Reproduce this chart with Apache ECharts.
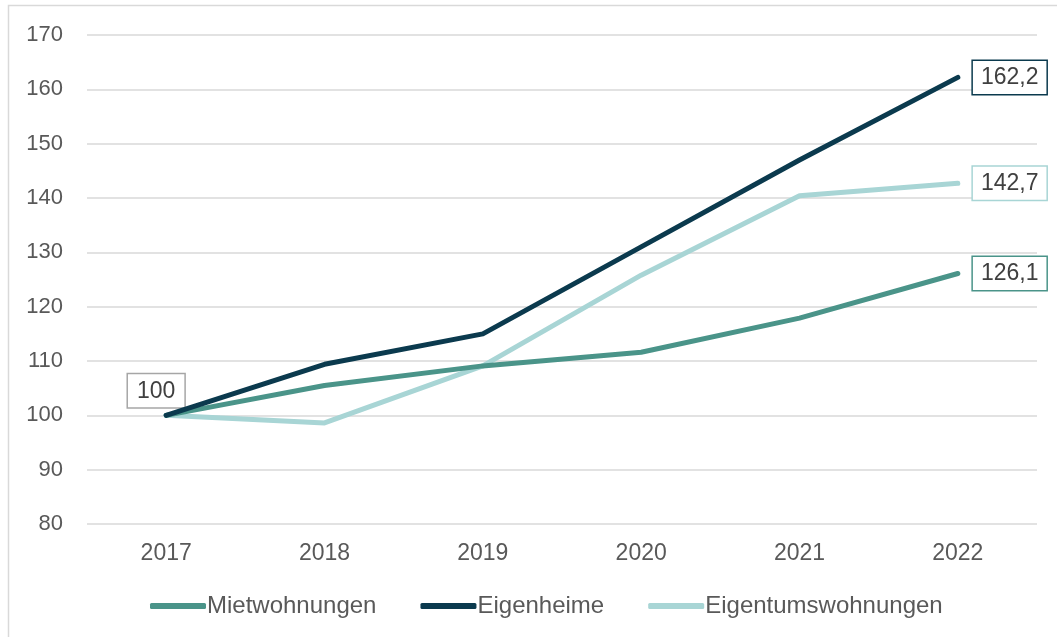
<!DOCTYPE html>
<html><head><meta charset="utf-8">
<script src="https://cdn.jsdelivr.net/npm/echarts@6/dist/echarts.min.js"></script>
<style>html,body{margin:0;padding:0;background:#fff}#c{width:1057px;height:637px}</style>
</head><body><div id="c"></div>
<script>
const years = ['2017','2018','2019','2020','2021','2022'];
const mietwohnungen = [100, 105.5, 109.1, 111.6, 117.9, 126.1];
const eigenheime = [100, 109.4, 115.0, 131.0, 147.0, 162.2];
const eigentumswohnungen = [100, 98.6, 109.1, 125.8, 140.4, 142.7];
const yTicks = [80, 90, 100, 110, 120, 130, 140, 150, 160, 170];

const font = 'Liberation Sans, Arial, sans-serif';
function fmt(v){ return String(v).replace('.', ','); }
function build(arr, color, showFirst){
  return arr.map((v, i) => {
    if (i === arr.length - 1) {
      return {value: v, label: {show: true, position: 'right', distance: 15, formatter: p => fmt(p.value),
        backgroundColor: '#fff', borderColor: color, borderWidth: 1.5, padding: [6, 8, 4, 8],
        color: '#404040', fontSize: 23, fontFamily: font}};
    }
    if (i === 0 && showFirst) {
      return {value: v, label: {show: true, position: 'top', distance: 8, offset: [-10, 0], formatter: p => fmt(p.value),
        backgroundColor: '#fff', borderColor: '#a6a6a6', borderWidth: 1.5, padding: [6, 9, 4, 9],
        color: '#404040', fontSize: 23, fontFamily: font}};
    }
    return v;
  });
}
const chart = echarts.init(document.getElementById('c'));
const mk = (name, arr, color, first, z) => ({
  name, type: 'line', data: build(arr, color, first), symbol: 'circle', symbolSize: 0.1, showSymbol: true, z,
  lineStyle: {color, width: 5, cap: 'round', join: 'round'}, itemStyle: {color},
  label: {show: false}, emphasis: {disabled: true}
});
chart.setOption({
  animation: false,
  graphic: [{type: 'rect', shape: {x: 8.5, y: 5.5, width: 1100, height: 700}, style: {fill: 'none', stroke: '#d9d9d9', lineWidth: 1.5}, silent: true}],
  grid: {left: 87, right: 20, top: 35, bottom: 113},
  xAxis: {type: 'category', data: years, boundaryGap: true,
    axisLine: {show: false}, axisTick: {show: false},
    axisLabel: {color: '#595959', fontSize: 23, fontFamily: font, margin: 18}},
  yAxis: {type: 'value', min: yTicks[0], max: yTicks[yTicks.length-1], interval: 10,
    axisLine: {show: false}, axisTick: {show: false},
    splitLine: {lineStyle: {color: '#d9d9d9', width: 1.5}},
    axisLabel: {color: '#595959', fontSize: 22, fontFamily: font, margin: 24}},
  legend: {top: 589, left: 145, itemWidth: 56, itemHeight: 6, itemGap: 44, icon: 'roundRect',
    textStyle: {color: '#595959', fontSize: 24, fontFamily: font, padding: [0, 0, 0, -4]},
    data: ['Mietwohnungen', 'Eigenheime', 'Eigentumswohnungen']},
  series: [
    mk('Mietwohnungen', mietwohnungen, '#4a9489', false, 3),
    mk('Eigenheime', eigenheime, '#0b3a4e', false, 4),
    mk('Eigentumswohnungen', eigentumswohnungen, '#a8d5d5', true, 2)
  ]
});
</script></body></html>
